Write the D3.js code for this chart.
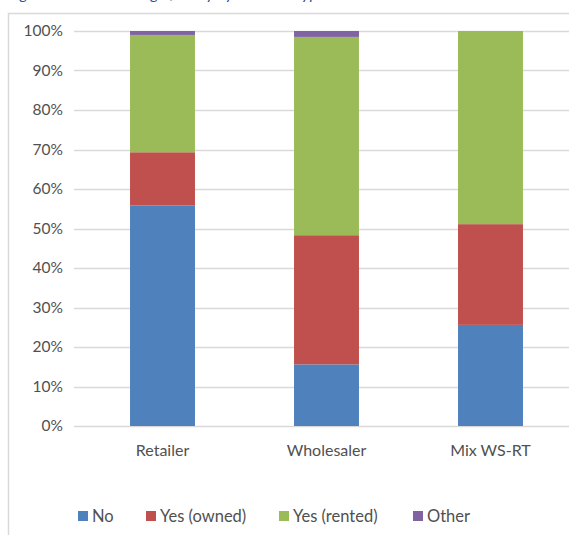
<!DOCTYPE html>
<html>
<head>
<meta charset="utf-8">
<script src="https://cdn.jsdelivr.net/npm/d3@7"></script>
<style>
  html, body { margin: 0; padding: 0; background: #ffffff; }
  svg { display: block; }
</style>
</head>
<body>
<div id="chart"></div>
<script>
// Storage facility by business type (shares of respondents, %)
const categories = ["Retailer", "Wholesaler", "Mix WS-RT"];
const seriesNames = ["No", "Yes (owned)", "Yes (rented)", "Other"];
const noValues = [55.8, 15.6, 25.6];
const ownedValues = [13.5, 32.7, 25.5];
const rentedValues = [29.7, 50.2, 48.9];
const otherValues = [1.0, 1.5, 0.0];
const yTicks = [0, 10, 20, 30, 40, 50, 60, 70, 80, 90, 100];
const titleText = "Figure 10: Have storage facility by business type";

const colors = ["#4F81BD", "#C0504D", "#9BBB59", "#8064A2"];
const W = 569, H = 535;
const font = "Lato, 'Open Sans', sans-serif";
const textColor = "#505050";

const svg = d3.select("#chart").append("svg")
  .attr("width", W).attr("height", H);

// caption sitting above the chart frame (runs off the top of the page)
svg.append("text")
  .attr("x", 8).attr("y", -1)
  .attr("font-family", font)
  .attr("font-style", "italic")
  .attr("font-size", 16)
  .attr("fill", "#2F5597")
  .text(titleText);

// chart frame
svg.append("rect")
  .attr("x", 8.5).attr("y", 13.5)
  .attr("width", W + 20).attr("height", H + 20)
  .attr("fill", "none")
  .attr("stroke", "#D9D9D9")
  .attr("stroke-width", 1.5);

const plotLeft = 74, plotRight = 580;
const y = d3.scaleLinear().domain([0, 100]).range([426, 31]);
const x = d3.scaleBand().domain(categories)
  .range([80.5, 572.5])
  .paddingInner(0.604).paddingOuter(0.302);

// gridlines
svg.append("g").selectAll("line")
  .data(yTicks)
  .join("line")
  .attr("x1", plotLeft).attr("x2", plotRight)
  .attr("y1", d => Math.round(y(d)) + 0.5)
  .attr("y2", d => Math.round(y(d)) + 0.5)
  .attr("stroke", "#D9D9D9")
  .attr("stroke-width", 1.5);

// y axis labels
const yAxis = d3.axisLeft(y).tickValues(yTicks)
  .tickFormat(d => d + "%").tickSize(0).tickPadding(0);
const yg = svg.append("g").attr("transform", "translate(63,0)").call(yAxis);
yg.select(".domain").remove();
yg.selectAll("text")
  .attr("font-family", font).attr("font-size", 15.5)
  .attr("fill", textColor);

// stacked bars
const rows = categories.map((c, i) => ({
  category: c,
  "No": noValues[i],
  "Yes (owned)": ownedValues[i],
  "Yes (rented)": rentedValues[i],
  "Other": otherValues[i]
}));
const stacked = d3.stack().keys(seriesNames)(rows);

svg.append("g").selectAll("g")
  .data(stacked)
  .join("g")
  .attr("fill", (d, i) => colors[i])
  .selectAll("rect")
  .data(d => d)
  .join("rect")
  .attr("x", d => x(d.data.category))
  .attr("width", x.bandwidth())
  .attr("y", d => y(d[1]))
  .attr("height", d => y(d[0]) - y(d[1]));

// category labels
const xAxis = d3.axisBottom(x).tickSize(0).tickPadding(0);
const xg = svg.append("g").attr("transform", "translate(0,456)").call(xAxis);
xg.select(".domain").remove();
xg.selectAll("text")
  .attr("dy", 0)
  .attr("font-family", font).attr("font-size", 16)
  .attr("fill", textColor);

// legend
const legendX = [78, 146, 279, 413];
const legend = svg.append("g").selectAll("g")
  .data(seriesNames)
  .join("g")
  .attr("transform", (d, i) => `translate(${legendX[i]},511)`);
legend.append("rect")
  .attr("width", 10).attr("height", 10)
  .attr("fill", (d, i) => colors[i]);
legend.append("text")
  .attr("x", 14).attr("y", 10.5)
  .attr("font-family", font).attr("font-size", 16.5)
  .attr("fill", textColor)
  .text(d => d);
</script>
</body>
</html>
